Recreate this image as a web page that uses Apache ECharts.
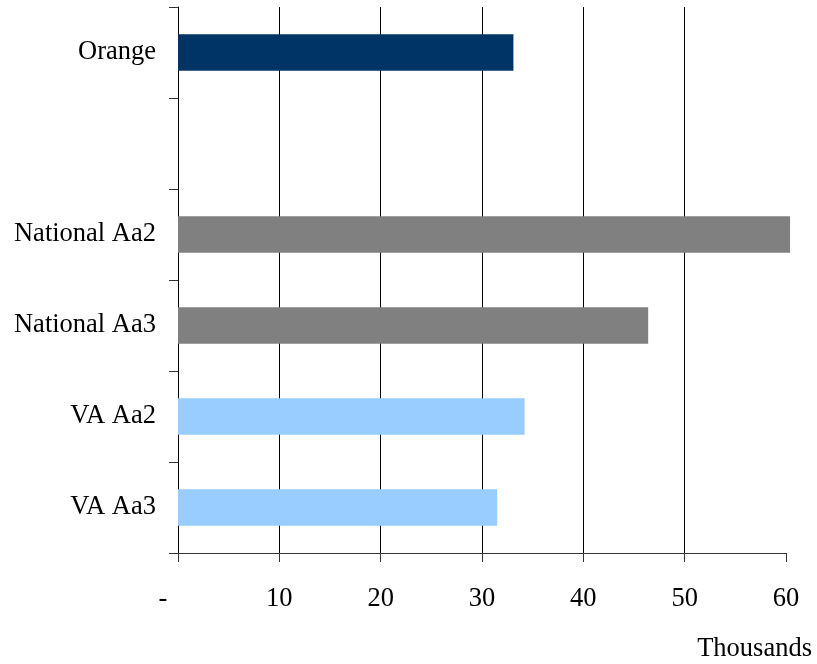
<!DOCTYPE html>
<html>
<head>
<meta charset="utf-8">
<script src="https://cdn.jsdelivr.net/npm/echarts@6/dist/echarts.min.js"></script>
<style>
  html, body { margin: 0; padding: 0; background: #fff; }
  #chart { width: 817px; height: 664px; }
</style>
</head>
<body>
<div id="chart"></div>
<script>
// Categories from top to bottom; the empty entry is a spacer row
const categories = ['Orange', '', 'National Aa2', 'National Aa3', 'VA Aa2', 'VA Aa3'];
// Values in thousands
const values = [33.1, null, 60.4, 46.4, 34.2, 31.5];
const barColors = ['#003366', '#ffffff', '#808080', '#808080', '#99CCFF', '#99CCFF'];
const xTicks = { min: 0, max: 60, interval: 10 };
const unitLabel = 'Thousands';

const font = '"Liberation Serif", "Times New Roman", serif';
const chart = echarts.init(document.getElementById('chart'), null, { renderer: 'canvas' });

chart.setOption({
  animation: false,
  backgroundColor: '#ffffff',
  textStyle: { fontFamily: font },
  title: {
    text: unitLabel,
    right: 5,
    top: 636,
    padding: 0,
    textStyle: { fontFamily: font, fontSize: 26.5, fontWeight: 'normal', color: '#000' }
  },
  grid: { left: 178, top: 7, width: 608, height: 546, containLabel: false },
  xAxis: {
    type: 'value',
    min: xTicks.min,
    max: xTicks.max,
    interval: xTicks.interval,
    axisLine: { show: true, lineStyle: { color: '#333', width: 1 } },
    axisTick: { show: true, length: 9, inside: false, lineStyle: { color: '#333', width: 1 } },
    splitLine: { show: true, showMinLine: false, showMaxLine: false, lineStyle: { color: '#000', width: 1 } },
    axisLabel: {
      margin: 33,
      fontFamily: font,
      fontSize: 26.5,
      color: '#000',
      formatter: v => v === 0 ? '{dash|-}' : String(v),
      rich: { dash: { fontFamily: font, fontSize: 26.5, color: '#000', padding: [0, 30, 0, 0] } }
    }
  },
  yAxis: {
    type: 'category',
    inverse: true,
    data: categories,
    axisLine: { show: true, lineStyle: { color: '#000', width: 1 } },
    axisTick: { show: true, length: 9, inside: false, lineStyle: { color: '#333', width: 1 } },
    axisLabel: { margin: 22, fontFamily: font, fontSize: 26.5, color: '#000', padding: [3, 0, 0, 0] },
    splitLine: { show: false }
  },
  series: [{
    type: 'bar',
    clip: false,
    barWidth: '40%',
    data: values.map((v, i) => ({ value: v, itemStyle: { color: barColors[i] } }))
  }]
});
</script>
</body>
</html>
